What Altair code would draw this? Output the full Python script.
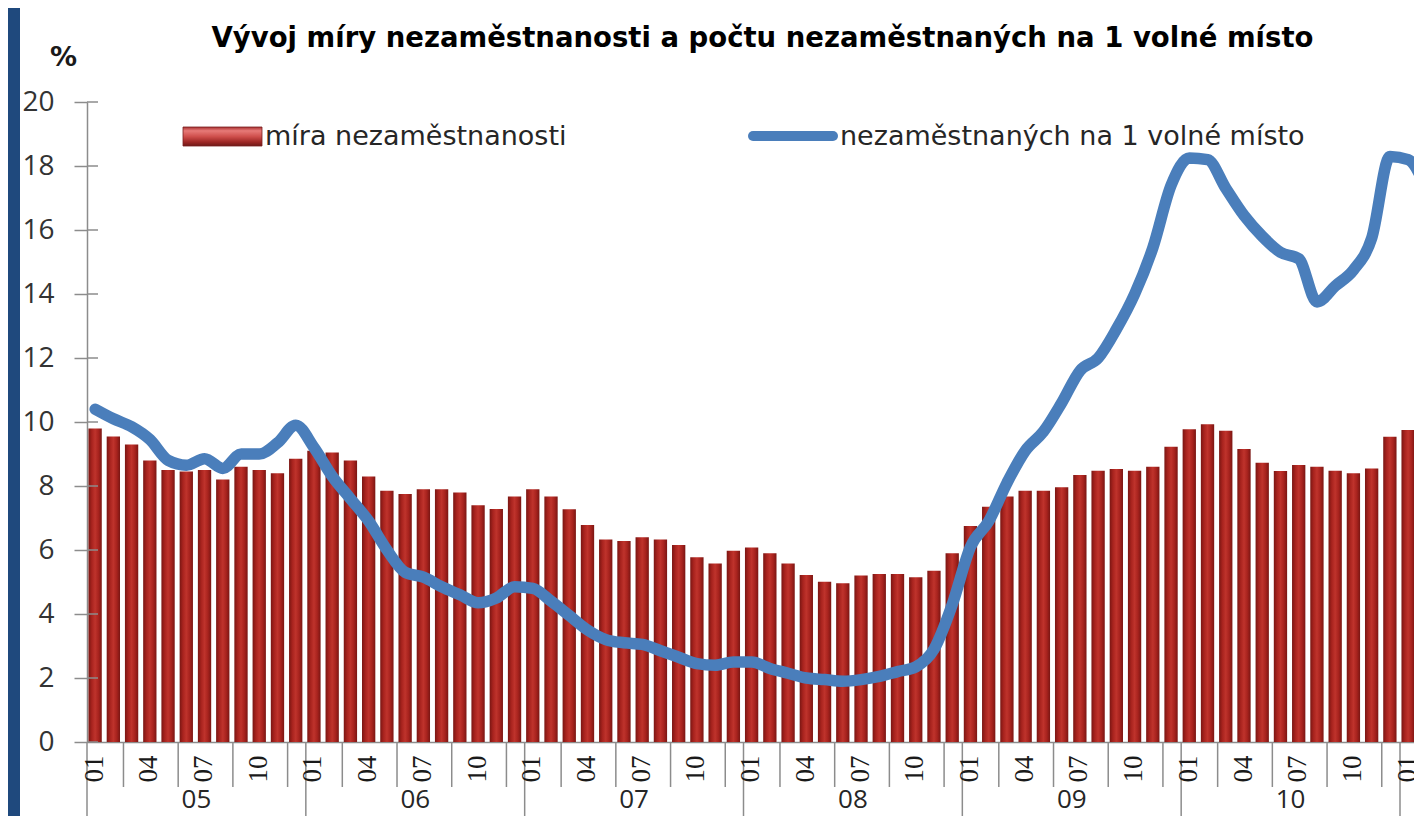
import altair as alt
import pandas as pd

# ---------------- data ----------------
TITLE = "Vývoj míry nezaměstnanosti a počtu nezaměstnaných na 1 volné místo"
Y_UNIT = "%"
SERIES_BAR = "míra nezaměstnanosti"
SERIES_LINE = "nezaměstnaných na 1 volné místo"

YEAR_LABELS = ["05", "06", "07", "08", "09", "10"]
MONTH_LABELS = ["01", "04", "07", "10"]
Y_TICKS = [0, 2, 4, 6, 8, 10, 12, 14, 16, 18, 20]

# monthly, 2005-01 ... 2011-02
unemployment_rate = [
    9.8, 9.55, 9.3, 8.8, 8.5, 8.45, 8.5, 8.2, 8.6, 8.5, 8.4, 8.85,
    9.1, 9.05, 8.8, 8.3, 7.85, 7.75, 7.9, 7.9, 7.8, 7.4, 7.28, 7.67,
    7.9, 7.67, 7.27, 6.78, 6.33, 6.28, 6.4, 6.33, 6.16, 5.77, 5.58, 5.98,
    6.08, 5.9, 5.58, 5.22, 5.01, 4.96, 5.2, 5.25, 5.25, 5.15, 5.35, 5.9,
    6.75, 7.35, 7.67, 7.85, 7.85, 7.96, 8.34, 8.48, 8.53, 8.48, 8.6, 9.23,
    9.77, 9.93, 9.73, 9.16, 8.73, 8.47, 8.66, 8.6, 8.48, 8.4, 8.55, 9.54,
    9.75, 9.65,
]
unemployed_per_vacancy = [
    10.4, 10.1, 9.85, 9.45, 8.8, 8.65, 8.85, 8.55, 9.0, 9.0, 9.35, 9.9,
    9.2, 8.3, 7.6, 6.9, 6.0, 5.3, 5.15, 4.85, 4.6, 4.35, 4.5, 4.85,
    4.8, 4.4, 3.95, 3.5, 3.2, 3.1, 3.05, 2.85, 2.65, 2.45, 2.4, 2.5,
    2.5, 2.3, 2.15, 2.0, 1.95, 1.9, 1.95, 2.05, 2.2, 2.35, 2.9, 4.3,
    6.1, 6.9, 8.1, 9.1, 9.7, 10.6, 11.6, 12.0, 12.9, 14.0, 15.45, 17.4,
    18.25, 18.2, 17.3, 16.45, 15.8, 15.3, 15.1, 13.75, 14.25, 14.75, 15.75, 18.3,
    18.2, 17.3,
]

# ---------------- layout ----------------
PAD_L, PAD_T, PAD_B = 79, 94, 74
W, H = 1327, 640
MONTH_PX = (1400 - 87) / 72.0
XMAX = W / MONTH_PX

n = len(unemployment_rate)
df = pd.DataFrame({
    "m": list(range(n)),
    "rate": unemployment_rate,
    "ratio": unemployed_per_vacancy,
})

xscale = alt.Scale(domain=[0, XMAX], nice=False, zero=False)
yscale = alt.Scale(domain=[0, 20], nice=False, zero=True)

GRAY = "#8c8c8c"
RED_GRAD = {
    "gradient": "linear", "x1": 0, "x2": 1, "y1": 0, "y2": 0,
    "stops": [
        {"offset": 0, "color": "#7a1613"},
        {"offset": 0.25, "color": "#a8231e"},
        {"offset": 0.5, "color": "#bf332c"},
        {"offset": 0.75, "color": "#a8231e"},
        {"offset": 1, "color": "#7a1613"},
    ],
}
RED_GRAD_V = {
    "gradient": "linear", "x1": 0, "x2": 0, "y1": 0, "y2": 1,
    "stops": [
        {"offset": 0, "color": "#a83030"},
        {"offset": 0.2, "color": "#e77a78"},
        {"offset": 0.5, "color": "#cf4f4c"},
        {"offset": 0.8, "color": "#9c2624"},
        {"offset": 1, "color": "#6e1a18"},
    ],
}
BLUE = "#4a7ebb"

bars = alt.Chart(df).transform_calculate(
    x0="datum.m + 0.08", x1="datum.m + 0.81"
).mark_bar(clip=True, color=RED_GRAD).encode(
    x=alt.X("x0:Q", scale=xscale, title=None,
            axis=alt.Axis(labels=False, ticks=False, grid=False, domain=True, title=None)),
    x2="x1:Q",
    y=alt.Y("rate:Q", scale=yscale, title=Y_UNIT,
            axis=alt.Axis(values=Y_TICKS, title=Y_UNIT)),
    y2=alt.datum(0),
)

line = alt.Chart(df).transform_calculate(xc="datum.m + 0.45").mark_line(
    clip=True, color=BLUE, strokeWidth=11.5, interpolate="monotone",
    strokeJoin="round", strokeCap="round"
).encode(
    x=alt.X("xc:Q", scale=xscale),
    y=alt.Y("ratio:Q", scale=yscale),
)

# inner half of the crossing y ticks
ytick_df = pd.DataFrame({"v": Y_TICKS})
ytick_in = alt.Chart(ytick_df).mark_rule(color=GRAY, strokeWidth=1.5).encode(
    y=alt.Y("v:Q", scale=yscale), x=alt.value(0), x2=alt.value(11)
)

# category axis: month ticks, year dividers, labels
month_ticks = [yr * 12 + k for yr in range(7) for k in (2, 5, 8, 11) if yr * 12 + k < XMAX]
year_lines = [yr * 12 for yr in range(7) if yr * 12 < XMAX]
mt = alt.Chart(pd.DataFrame({"b": month_ticks})).mark_rule(color=GRAY, strokeWidth=1.5).encode(
    x=alt.X("b:Q", scale=xscale), y=alt.value(H), y2=alt.value(H + 45)
)
yl = alt.Chart(pd.DataFrame({"b": year_lines})).mark_rule(color=GRAY, strokeWidth=1.5).encode(
    x=alt.X("b:Q", scale=xscale), y=alt.value(H), y2=alt.value(H + PAD_B)
)
ml_df = pd.DataFrame({
    "p": [m + 0.42 for m in range(n) if m % 3 == 0],
    "t": [MONTH_LABELS[(m % 12) // 3] for m in range(n) if m % 3 == 0],
})
month_labels = alt.Chart(ml_df).mark_text(
    angle=270, font="Liberation Serif", fontSize=27, color="#1a1a1a",
    align="center", baseline="middle"
).encode(x=alt.X("p:Q", scale=xscale), y=alt.value(H + 27), text="t:N")

yr_df = pd.DataFrame({"p": [i * 12 + 6 for i in range(len(YEAR_LABELS))], "t": YEAR_LABELS})
year_labels = alt.Chart(yr_df).mark_text(
    font="Open Sans", fontSize=26, color="#262626", align="center", baseline="bottom"
).encode(x=alt.X("p:Q", scale=xscale), y=alt.value(H + PAD_B - 3), text="t:N")

# title
title = alt.Chart(pd.DataFrame({"t": [TITLE]})).mark_text(
    font="DejaVu Sans", fontWeight="bold", fontSize=27.5, color="#000000",
    align="center", baseline="alphabetic"
).encode(x=alt.value(675.5), y=alt.value(-55), text="t:N")

# legend
one = pd.DataFrame({"t": [SERIES_BAR], "u": [SERIES_LINE]})
leg_rect = alt.Chart(one).mark_rect(color=RED_GRAD_V, stroke="#7a2020", strokeWidth=0.8).encode(
    x=alt.value(96), x2=alt.value(175), y=alt.value(25), y2=alt.value(44)
)
leg_t1 = alt.Chart(one).mark_text(
    font="DejaVu Sans", fontSize=27, color="#262626", align="left", baseline="alphabetic"
).encode(x=alt.value(178), y=alt.value(43), text="t:N")
leg_line = alt.Chart(one).mark_rule(color=BLUE, strokeWidth=10, strokeCap="round").encode(
    x=alt.value(666), x2=alt.value(746), y=alt.value(34)
)
leg_t2 = alt.Chart(one).mark_text(
    font="DejaVu Sans", fontSize=27, color="#262626", align="left", baseline="alphabetic"
).encode(x=alt.value(753), y=alt.value(43), text="u:N")

# dark frame stripe on the left
frame = alt.Chart(pd.DataFrame({"k": [0]})).mark_rect(color="#1f497d").encode(
    x=alt.value(-PAD_L), x2=alt.value(-PAD_L + 12), y=alt.value(-PAD_T), y2=alt.value(H + PAD_B)
)

chart = alt.layer(
    bars, frame, ytick_in, mt, yl, month_labels, year_labels, line,
    title, leg_rect, leg_t1, leg_line, leg_t2
).properties(
    width=W, height=H,
    autosize=alt.AutoSizeParams(type="none"),
    padding={"left": PAD_L, "top": PAD_T, "right": 0, "bottom": PAD_B},
    background="white",
).configure_view(stroke=None).configure_axis(
    grid=False, domainColor=GRAY, domainWidth=1.5, tickColor=GRAY, tickWidth=1.5,
).configure_axisX(
    labels=False, ticks=False, title=None,
).configure_axisY(
    tickSize=13, labelFont="Open Sans", labelFontSize=28, labelColor="#333333",
    labelPadding=20, titleAngle=0, titleX=-24, titleY=-45, titleAlign="center",
    titleBaseline="middle", titleFont="DejaVu Sans", titleFontWeight="bold",
    titleFontSize=27, titleColor="#1a1a1a",
)

chart.save("out.html", embed_options={"renderer": "svg", "actions": False})
